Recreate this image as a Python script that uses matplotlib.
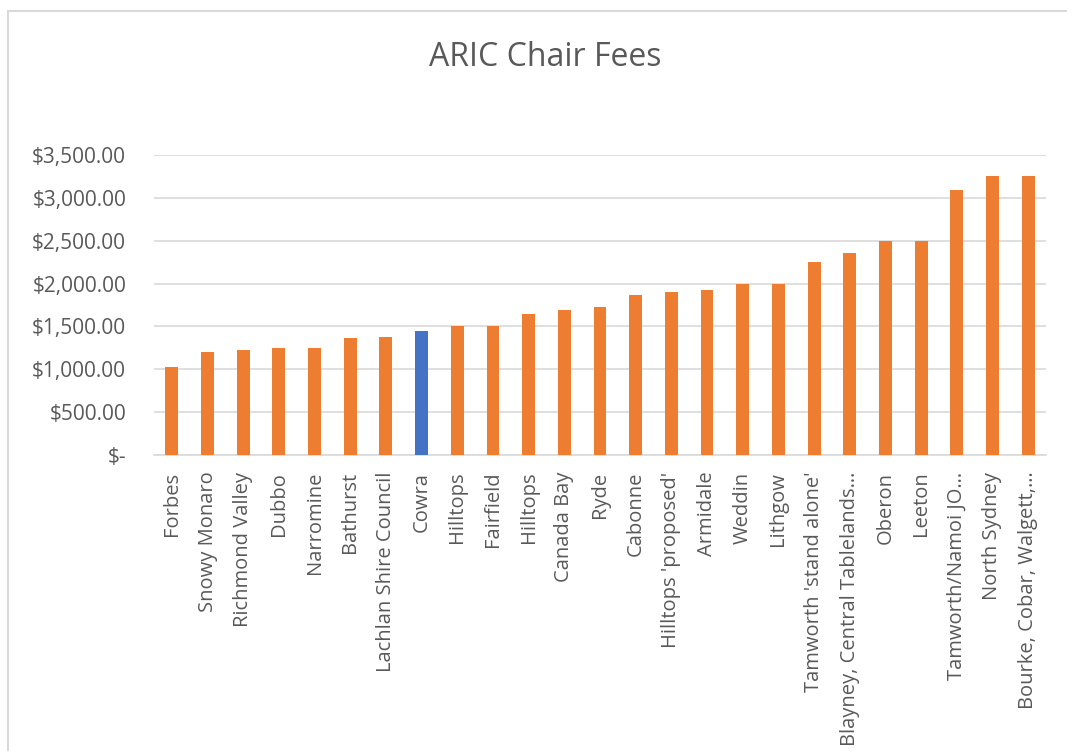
import matplotlib
matplotlib.use("Agg")
import matplotlib.pyplot as plt
from matplotlib.patches import Rectangle
from matplotlib.ticker import FuncFormatter, MultipleLocator

categories = ["Forbes", "Snowy Monaro", "Richmond Valley", "Dubbo", "Narromine",
              "Bathurst", "Lachlan Shire Council", "Cowra", "Hilltops", "Fairfield",
              "Hilltops", "Canada Bay", "Ryde", "Cabonne", "Hilltops 'proposed'",
              "Armidale", "Weddin", "Lithgow", "Tamworth 'stand alone'",
              "Blayney, Central Tablelands…", "Oberon", "Leeton",
              "Tamworth/Namoi JO…", "North Sydney", "Bourke, Cobar, Walgett,…"]
fees = [1030, 1200, 1220, 1250, 1250, 1360, 1380, 1450, 1500, 1500,
        1640, 1690, 1730, 1870, 1900, 1920, 1990, 1990, 2250,
        2360, 2500, 2500, 3090, 3250, 3250]
highlight = "Cowra"

W, H = 1067, 751
fig = plt.figure(figsize=(W / 100, H / 100), dpi=100)
fig.patch.set_facecolor("white")

# chart-area border
fig.add_artist(Rectangle((8 / W, -0.05), 1.2, (H - 11) / H + 0.05,
                         transform=fig.transFigure, fill=False,
                         edgecolor="#D9D9D9", linewidth=1.5))

ax = fig.add_axes([154 / W, (H - 455) / H, (1046 - 154) / W, 300 / H])
x = list(range(len(categories)))
colors = ["#4472C4" if c == highlight else "#ED7D31" for c in categories]
ax.bar(x, fees, width=0.36, color=colors, zorder=3)

ax.set_xlim(-0.5, len(categories) - 0.5)
ax.set_ylim(0, 3500)
ax.yaxis.set_major_locator(MultipleLocator(500))
ax.yaxis.set_major_formatter(FuncFormatter(lambda v, p: "$-" if v == 0 else f"${v:,.2f}"))
ax.grid(axis="y", color="#D9D9D9", linewidth=1.2, zorder=0)
for s in ["top", "right", "left"]:
    ax.spines[s].set_visible(False)
ax.spines["bottom"].set_color("#D9D9D9")
ax.spines["bottom"].set_linewidth(1.2)

ax.set_xticks(x)
ax.set_xticklabels(categories, rotation=90, fontsize=14.5, color="#595959",
                   fontfamily="Open Sans")
ax.tick_params(axis="x", length=0, pad=12)
ax.tick_params(axis="y", length=0, pad=20, labelsize=15, labelcolor="#595959")
for lbl in ax.get_yticklabels():
    lbl.set_fontfamily("Open Sans")

fig.text(545 / W, 1 - 57 / H, "ARIC Chair Fees", ha="center", va="center",
         fontsize=23, color="#595959", fontfamily="Open Sans")

fig.savefig("out.png", dpi=100)
